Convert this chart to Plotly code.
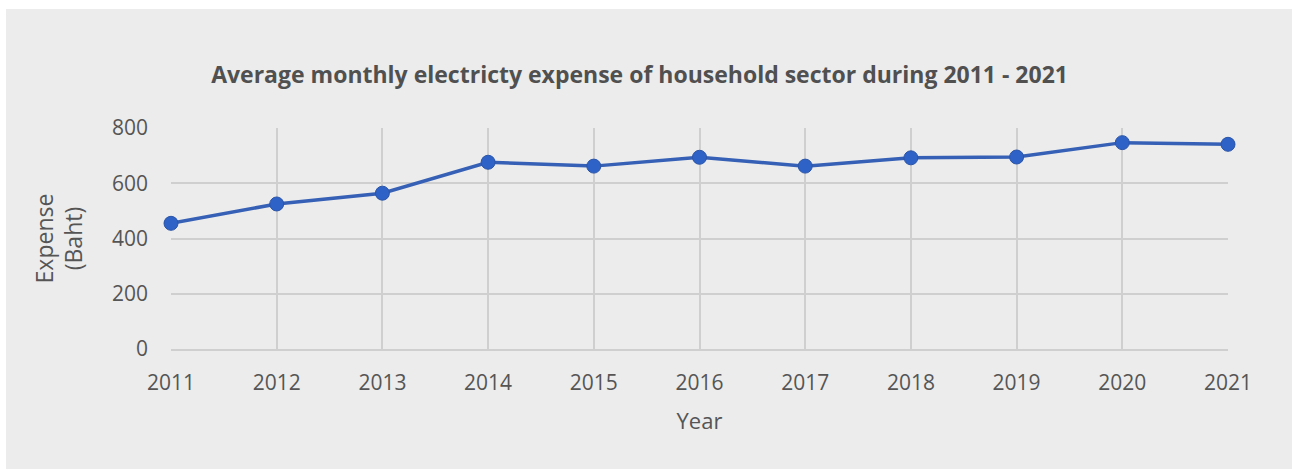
import plotly.graph_objects as go

years = [2011, 2012, 2013, 2014, 2015, 2016, 2017, 2018, 2019, 2020, 2021]
expense = [455, 525, 564, 676, 662, 694, 662, 692, 695, 747, 741]

y_ticks = [0, 200, 400, 600, 800]

bg = "#ececec"
grid = "#cfcfcf"
text = "#555555"
font_family = "Open Sans"

fig = go.Figure()
fig.add_trace(go.Scatter(
    x=years, y=expense, mode="lines+markers",
    line=dict(color="#3560b5", width=3.5),
    marker=dict(color="#2f62c6", size=14, line=dict(color="#2b55a8", width=1)),
    cliponaxis=False,
    showlegend=False,
))

fig.update_layout(
    width=1292, height=471,
    margin=dict(l=171, r=64, t=128, b=122),
    paper_bgcolor=bg, plot_bgcolor=bg,
    font=dict(family=font_family, color=text, size=21),
    title=dict(
        text="<b>Average monthly electricty expense of household sector during 2011 - 2021</b>",
        x=0.495, xanchor="center", y=0.84, yanchor="middle",
        font=dict(family=font_family, size=23, color="#505050"),
    ),
    xaxis=dict(
        range=[2011, 2021], tickmode="array", tickvals=years,
        ticktext=[str(y) for y in years],
        showgrid=True, gridcolor=grid, gridwidth=1.5,
        showline=True, linecolor=grid, linewidth=2, mirror=False,
        zeroline=False, ticks="", ticklabelstandoff=14,
        tickfont=dict(size=21),
        title=dict(text="Year", standoff=18, font=dict(size=22, color=text)),
        fixedrange=True,
    ),
    yaxis=dict(
        range=[0, 800], tickvals=y_ticks,
        showgrid=True, gridcolor=grid, gridwidth=1.5,
        showline=False, zeroline=False, ticks="", ticklabelstandoff=22,
        tickfont=dict(size=21),
        title=dict(text="Expense<br>(Baht)", standoff=22, font=dict(size=23, color=text)),
        fixedrange=True,
    ),
    shapes=[
        # white border around the gray panel
        dict(type="rect", xref="paper", yref="paper", x0=-0.17, x1=-0.1561,
             y0=-0.6, y1=1.6, fillcolor="white", line=dict(width=0), layer="above"),
        dict(type="rect", xref="paper", yref="paper", x0=-0.17, x1=1.07,
             y0=1.5385, y1=1.6, fillcolor="white", line=dict(width=0), layer="above"),
        dict(type="rect", xref="paper", yref="paper", x0=-0.17, x1=1.07,
             y0=-0.6, y1=-0.5430, fillcolor="white", line=dict(width=0), layer="above"),
    ],
)

fig.write_html("out.html")
